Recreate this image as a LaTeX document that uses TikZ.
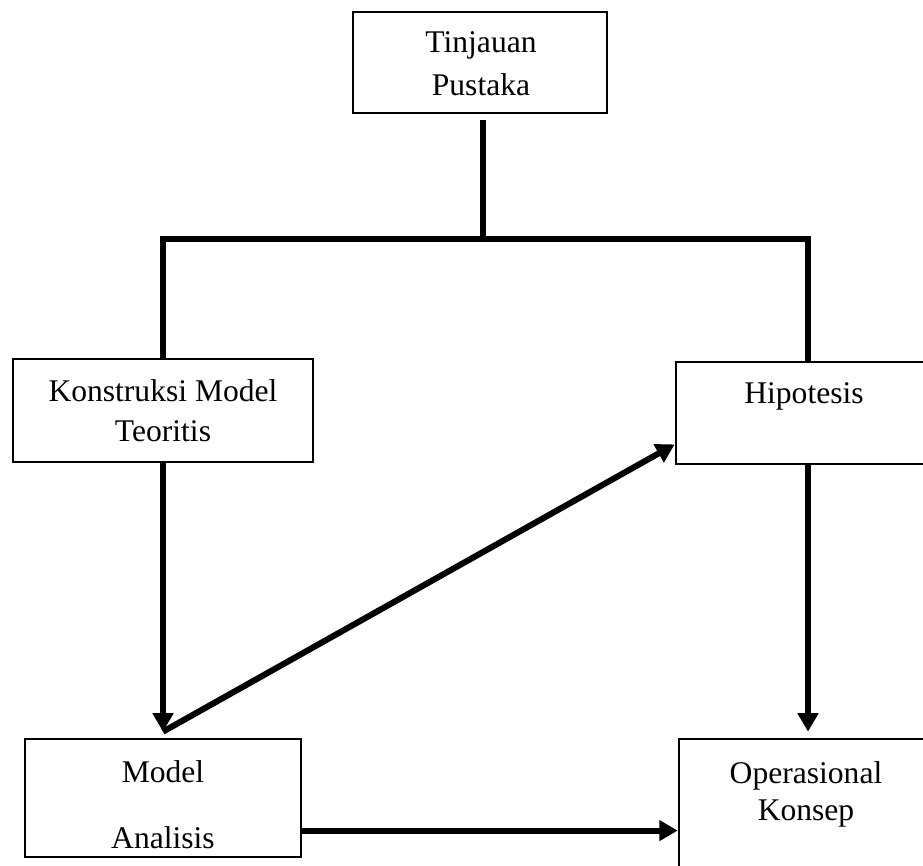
\documentclass[tikz,border=0pt]{standalone}
\usepackage{fontspec}
\setmainfont{Liberation Serif}
\usetikzlibrary{arrows.meta, positioning, fit, calc}

\begin{document}
\begin{tikzpicture}[x=0.38pt, y=-0.38pt,
    font=\fontsize{12}{15}\selectfont,
    box/.style={draw, line width=1pt, inner sep=0pt},
    txt/.style={align=center, inner sep=0pt},
    link/.style={line width=2.3pt},
    flow/.style={link, -{Triangle[length=7pt, width=7.6pt]}}]
  \useasboundingbox (0,0) rectangle (923,865);
  \clip (0,0) rectangle (923,865);

  % boxes
  \node[box, fit={(353,12) (607,113)}]   (tinjauan)    {};
  \node[box, fit={(13,359) (313,462)}]   (konstruksi)  {};
  \node[box, fit={(676,362) (940,464)}]  (hipotesis)   {};
  \node[box, fit={(25,739) (301,857)}]   (model)       {};
  \node[box, fit={(679,739) (935,880)}]  (operasional) {};

  % texts
  \node[txt, font=\fontsize{12}{16.3}\selectfont] (tinjauantxt)    at (481,64)  {Tinjauan\\Pustaka};
  \node[txt, font=\fontsize{12}{15.2}\selectfont] (konstruksitxt)  at (163,411) {Konstruksi Model\\Teoritis};
  \node[txt]                                      (hipotesistxt)   at (804,396) {Hipotesis};
  \node[txt, font=\fontsize{12}{25}\selectfont]   (modeltxt)       at (163,805) {Model\\Analisis};
  \node[txt, font=\fontsize{12}{14.1}\selectfont] (operasionaltxt) at (806,794) {Operasional\\Konsep};

  % connectors
  \coordinate (split) at (483,239);
  \draw[link, shorten <=2.3pt] (split |- tinjauan.south) -- (split);
  \draw[link] (konstruksi.north) |- (split) -| (hipotesis.north);

  \draw[flow, shorten >=2.3pt] (konstruksi.south) -- (konstruksi.south |- model.north);
  \draw[flow] ([yshift=2.3pt]model.north)
    -- ($(hipotesis.south west)!0.2!(hipotesis.north west)$);
  \draw[flow, shorten >=2.3pt] (hipotesis.south) -- (hipotesis.south |- operasional.north);
  \coordinate (modelout) at ($(model.south east)!0.23!(model.north east)$);
  \draw[flow] (modelout) -- (modelout -| operasional.west);
\end{tikzpicture}
\end{document}
